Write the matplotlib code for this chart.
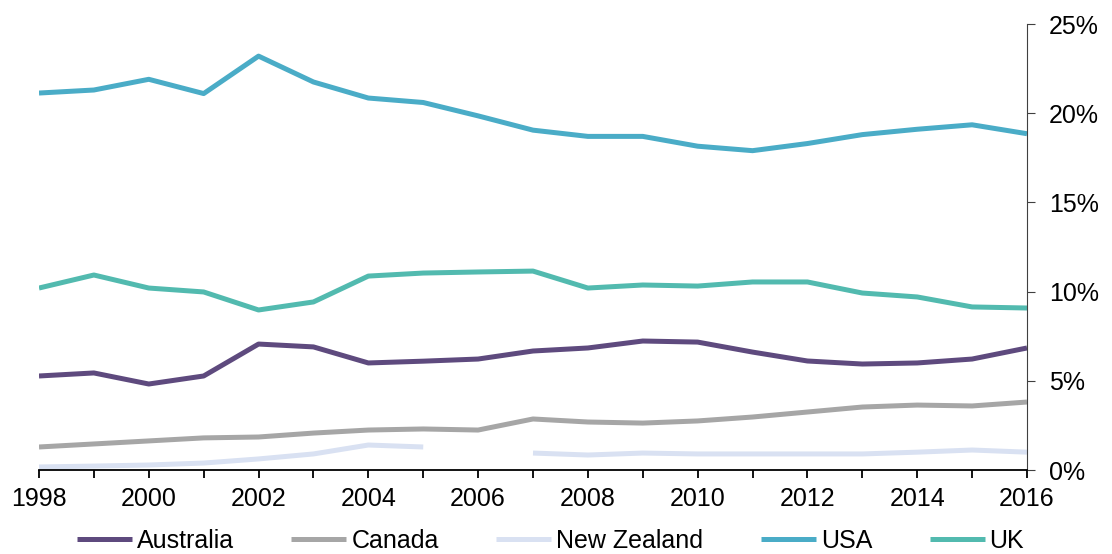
import matplotlib.pyplot as plt
import numpy as np
from matplotlib.ticker import FuncFormatter, MultipleLocator

plt.rcParams['font.family'] = ['Liberation Sans', 'DejaVu Sans']

years = np.arange(1998, 2017)

australia = [5.27, 5.44, 4.82, 5.27, 7.06, 6.9, 6.0, 6.1, 6.22, 6.67,
             6.84, 7.23, 7.17, 6.61, 6.11, 5.94, 6.0, 6.22, 6.84]
canada = [1.29, 1.46, 1.63, 1.8, 1.85, 2.07, 2.24, 2.3, 2.24, 2.86,
          2.69, 2.63, 2.75, 2.97, 3.25, 3.53, 3.64, 3.59, 3.81]
new_zealand = [0.17, 0.22, 0.28, 0.39, 0.62, 0.9, 1.4, 1.29, np.nan, 0.95,
               0.84, 0.95, 0.9, 0.9, 0.9, 0.9, 1.0, 1.12, 1.0]
usa = [21.13, 21.3, 21.9, 21.1, 23.2, 21.75, 20.85, 20.6, 19.85, 19.05,
       18.7, 18.7, 18.15, 17.9, 18.3, 18.8, 19.1, 19.35, 18.85]
uk = [10.2, 10.93, 10.2, 9.98, 8.97, 9.42, 10.87, 11.04, 11.1, 11.15,
      10.2, 10.37, 10.31, 10.54, 10.54, 9.92, 9.7, 9.14, 9.08]

series = [
    ('Australia', australia, '#5E4A7E'),
    ('Canada', canada, '#A6A6A6'),
    ('New Zealand', new_zealand, '#D9E1F2'),
    ('USA', usa, '#4AACC7'),
    ('UK', uk, '#52BAAF'),
]

fig = plt.figure(figsize=(11.12, 5.54), dpi=100)
ax = fig.add_axes([39/1112, 84/554, 988/1112, 446/554])

for name, vals, color in series:
    ax.plot(years, vals, color=color, linewidth=3.6, label=name,
            solid_capstyle='butt')

ax.set_xlim(1998, 2016)
ax.set_ylim(0, 25)

ax.yaxis.tick_right()
ax.yaxis.set_major_locator(MultipleLocator(5))
ax.yaxis.set_major_formatter(FuncFormatter(lambda v, p: f'{v:.0f}%'))
ax.xaxis.set_major_locator(MultipleLocator(2))
ax.xaxis.set_minor_locator(MultipleLocator(1))

for s in ['top', 'left']:
    ax.spines[s].set_visible(False)
ax.spines['right'].set_color('#404040')
ax.spines['bottom'].set_color('black')
ax.spines['bottom'].set_linewidth(1.3)

ax.tick_params(axis='both', which='both', direction='out', labelsize=18,
               length=6, color='#404040')
ax.tick_params(axis='x', which='both', width=1.3, color='black', pad=6)
ax.tick_params(axis='y', pad=10)

fig.legend(loc='center', bbox_to_anchor=(0.495, 1 - 541/554), ncol=5,
           frameon=False, fontsize=18, handlelength=2.2, handletextpad=0.2,
           columnspacing=2.3, borderpad=0)

plt.savefig('out.png', dpi=100)
